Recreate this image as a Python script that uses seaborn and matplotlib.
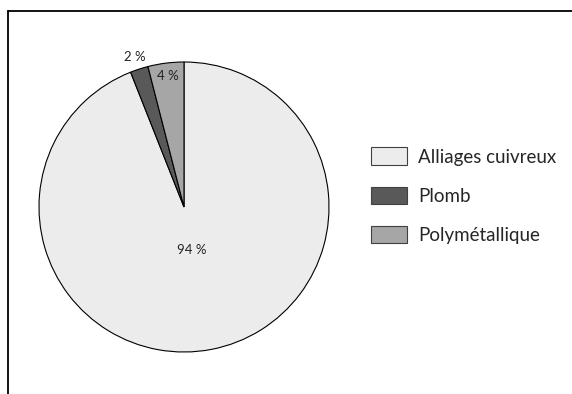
import numpy as np
import matplotlib
matplotlib.use("Agg")
import matplotlib.pyplot as plt
import seaborn as sns
from matplotlib.lines import Line2D

# data
categories = ["Alliages cuivreux", "Plomb", "Polymétallique"]
shares = [94, 2, 4]
labels_pct = ["94 %", "2 %", "4 %"]
colors = ["#ececec", "#595959", "#a6a6a6"]

sns.set_style("white")
plt.rcParams["font.family"] = ["Lato", "DejaVu Sans"]

W, H = 572, 394
fig = plt.figure(figsize=(W / 100, H / 100), dpi=100)

# pie centre (184, 207) px, radius 145 px
cx, cy, r = 184, 207, 145
ax = fig.add_axes([(cx - r) / W, (H - cy - r) / H, 2 * r / W, 2 * r / H])

wedges, _ = ax.pie(shares, colors=colors, startangle=90, counterclock=False,
                   radius=1, wedgeprops=dict(edgecolor="black", linewidth=0.8))
ax.set_xlim(-1, 1)
ax.set_ylim(-1, 1)
ax.set_aspect("equal")
ax.axis("off")

# label distance per slice
dists = [0.3, 1.09, 0.91]
for w, txt, d in zip(wedges, labels_pct, dists):
    ang = np.deg2rad((w.theta1 + w.theta2) / 2)
    ax.text(d * np.cos(ang), d * np.sin(ang), txt, ha="center", va="center",
            fontsize=9.5, color="#222222")

leg = fig.legend(wedges, categories, loc="upper left",
                 bbox_to_anchor=(363 / W, 1 - 140 / H), frameon=False,
                 borderaxespad=0, fontsize=13.5, handlelength=1.95,
                 handleheight=1.05, labelspacing=1.12, handletextpad=0.6)
for p in leg.get_patches():
    p.set_edgecolor("#404040")
    p.set_linewidth(0.8)

# chart frame: top and left edges only
fig.add_artist(Line2D([8 / W, 1], [1 - 11 / H, 1 - 11 / H], color="black", lw=1.3,
                      transform=fig.transFigure))
fig.add_artist(Line2D([8 / W, 8 / W], [0, 1 - 11 / H], color="black", lw=1.3,
                      transform=fig.transFigure))

fig.savefig("out.png", dpi=100)
